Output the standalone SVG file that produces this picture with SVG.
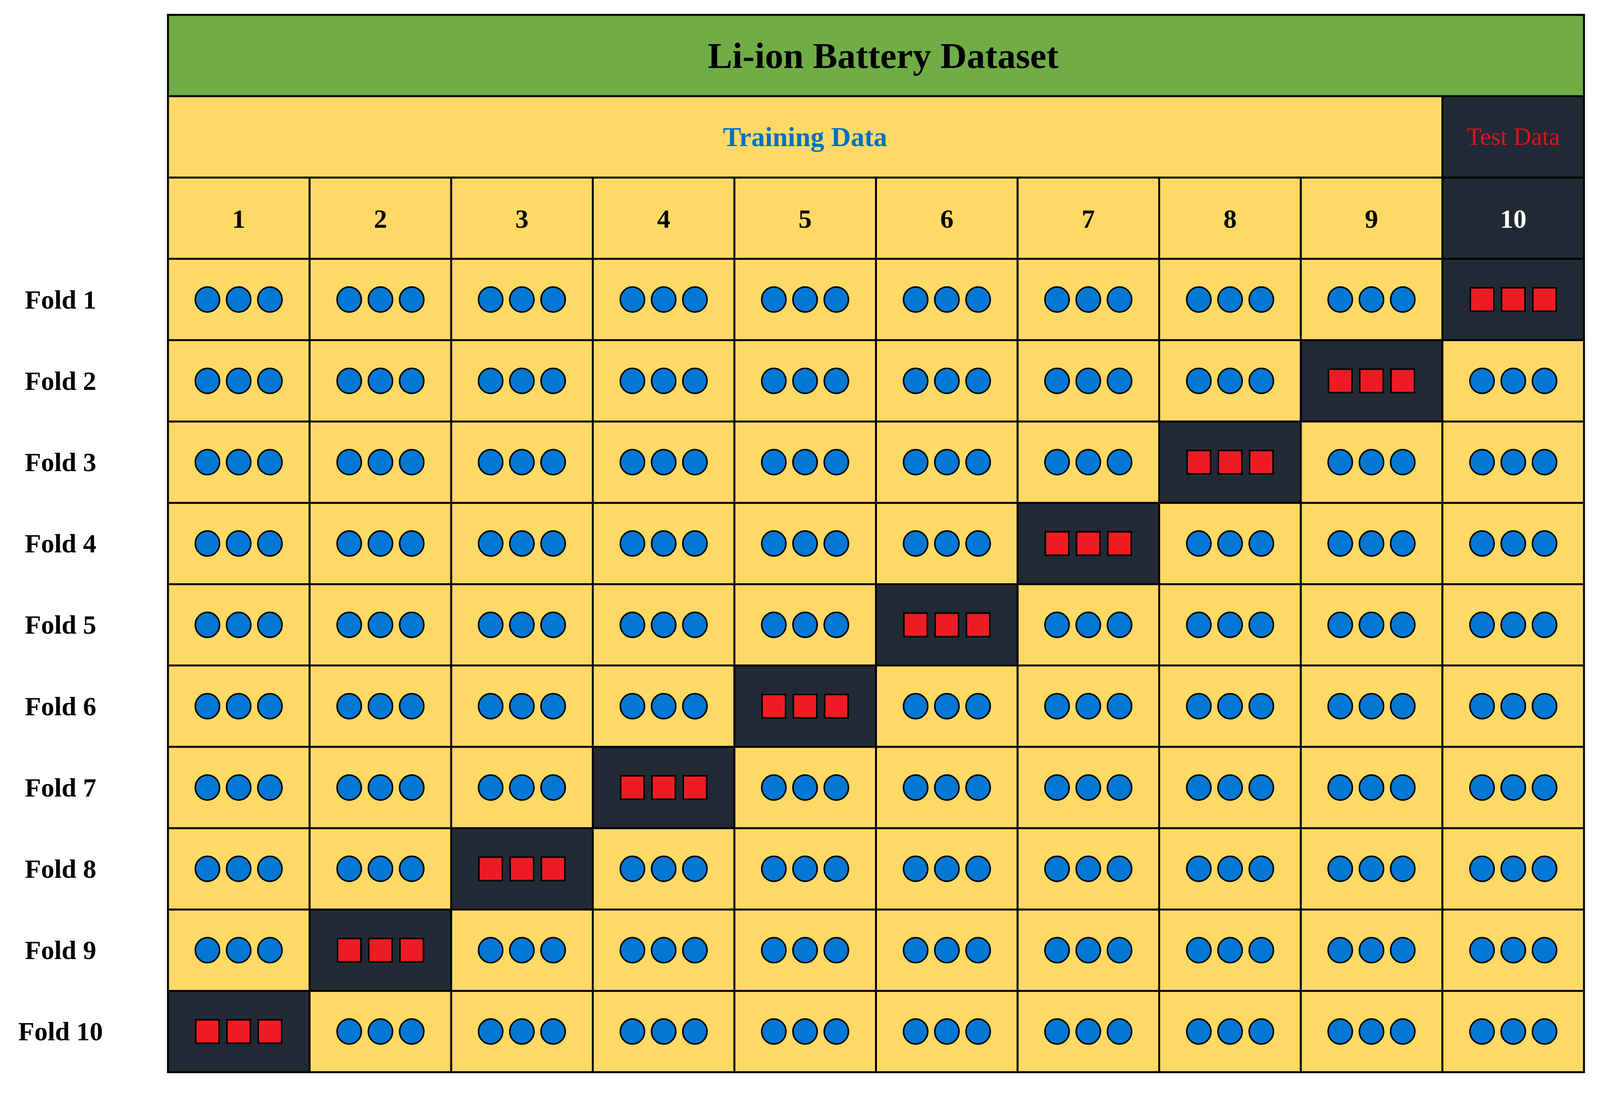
<svg xmlns="http://www.w3.org/2000/svg" xmlns:xlink="http://www.w3.org/1999/xlink" width="4129" height="2803" viewBox="0 0 4129 2803">
<style>
.t{font-family:"Liberation Serif",serif;font-weight:bold;text-anchor:middle;fill:#000}
.ln{stroke:#000;stroke-width:5;fill:none}
.dot{fill:#0277D4;stroke:#000;stroke-width:4}
.sq{fill:#ED1C24;stroke:#000;stroke-width:4}
.dk{fill:#222A35}
</style>
<defs>
<g id="c3"><ellipse class="dot" cx="-80" cy="0" rx="31" ry="32"/><ellipse class="dot" cx="0" cy="0" rx="31" ry="32"/><ellipse class="dot" cx="80" cy="0" rx="31" ry="32"/></g>
<g id="s3"><rect class="sq" x="-110" y="-30" width="60" height="60"/><rect class="sq" x="-30" y="-30" width="60" height="60"/><rect class="sq" x="50" y="-30" width="60" height="60"/></g>
</defs>
<rect width="4129" height="2803" fill="#fff"/>
<g id="title"><rect x="430" y="38" width="3625" height="208.2" fill="#70AD47"/><text class="t" x="2261" y="174" font-size="94">Li-ion Battery Dataset</text></g>
<rect x="430" y="246.2" width="3625" height="2498.4" fill="#FFD966"/>
<g id="darkcells">
<rect class="dk" x="3692.5" y="246.2" width="362.5" height="624.6"/>
<rect class="dk" x="3330" y="870.8" width="362.5" height="208.2"/>
<rect class="dk" x="2967.5" y="1079" width="362.5" height="208.2"/>
<rect class="dk" x="2605" y="1287.2" width="362.5" height="208.2"/>
<rect class="dk" x="2242.5" y="1495.4" width="362.5" height="208.2"/>
<rect class="dk" x="1880" y="1703.6" width="362.5" height="208.2"/>
<rect class="dk" x="1517.5" y="1911.8" width="362.5" height="208.2"/>
<rect class="dk" x="1155" y="2120" width="362.5" height="208.2"/>
<rect class="dk" x="792.5" y="2328.2" width="362.5" height="208.2"/>
<rect class="dk" x="430" y="2536.4" width="362.5" height="208.2"/>
</g>
<g id="grid" class="ln">
<rect x="430" y="38" width="3625" height="2706.6"/>
<path d="M430 246.2H4055M430 454.4H4055M430 662.6H4055M430 870.8H4055M430 1079H4055M430 1287.2H4055M430 1495.4H4055M430 1703.6H4055M430 1911.8H4055M430 2120H4055M430 2328.2H4055M430 2536.4H4055"/>
<path d="M3692.5 246.2V2744.6M792.5 454.4V2744.6M1155 454.4V2744.6M1517.5 454.4V2744.6M1880 454.4V2744.6M2242.5 454.4V2744.6M2605 454.4V2744.6M2967.5 454.4V2744.6M3330 454.4V2744.6"/>
</g>
<g id="headers">
<text class="t" x="2061" y="374" font-size="70" style="fill:#0070C0">Training Data</text>
<text x="3874" y="371" font-size="63" font-family="Liberation Serif,serif" text-anchor="middle" fill="#E0121E">Test Data</text>
<text class="t" font-size="68" y="583" x="611">1</text>
<text class="t" font-size="68" y="583" x="974">2</text>
<text class="t" font-size="68" y="583" x="1336">3</text>
<text class="t" font-size="68" y="583" x="1699">4</text>
<text class="t" font-size="68" y="583" x="2061">5</text>
<text class="t" font-size="68" y="583" x="2424">6</text>
<text class="t" font-size="68" y="583" x="2786">7</text>
<text class="t" font-size="68" y="583" x="3149">8</text>
<text class="t" font-size="68" y="583" x="3511">9</text>
<text class="t" font-size="68" y="583" x="3874" style="fill:#fff">10</text>
</g>
<g id="labels">
<text class="t" font-size="68" x="155" y="790">Fold 1</text>
<text class="t" font-size="68" x="155" y="998">Fold 2</text>
<text class="t" font-size="68" x="155" y="1206">Fold 3</text>
<text class="t" font-size="68" x="155" y="1414">Fold 4</text>
<text class="t" font-size="68" x="155" y="1622">Fold 5</text>
<text class="t" font-size="68" x="155" y="1831">Fold 6</text>
<text class="t" font-size="68" x="155" y="2039">Fold 7</text>
<text class="t" font-size="68" x="155" y="2247">Fold 8</text>
<text class="t" font-size="68" x="155" y="2455">Fold 9</text>
<text class="t" font-size="68" x="155" y="2663">Fold 10</text>
</g>
<g id="fold1"><use href="#c3" x="611" y="766.7"/><use href="#c3" x="974" y="766.7"/><use href="#c3" x="1336" y="766.7"/><use href="#c3" x="1699" y="766.7"/><use href="#c3" x="2061" y="766.7"/><use href="#c3" x="2424" y="766.7"/><use href="#c3" x="2786" y="766.7"/><use href="#c3" x="3149" y="766.7"/><use href="#c3" x="3511" y="766.7"/><use href="#s3" x="3874" y="766.7"/></g>
<g id="fold2"><use href="#c3" x="611" y="974.9"/><use href="#c3" x="974" y="974.9"/><use href="#c3" x="1336" y="974.9"/><use href="#c3" x="1699" y="974.9"/><use href="#c3" x="2061" y="974.9"/><use href="#c3" x="2424" y="974.9"/><use href="#c3" x="2786" y="974.9"/><use href="#c3" x="3149" y="974.9"/><use href="#s3" x="3511" y="974.9"/><use href="#c3" x="3874" y="974.9"/></g>
<g id="fold3"><use href="#c3" x="611" y="1183.1"/><use href="#c3" x="974" y="1183.1"/><use href="#c3" x="1336" y="1183.1"/><use href="#c3" x="1699" y="1183.1"/><use href="#c3" x="2061" y="1183.1"/><use href="#c3" x="2424" y="1183.1"/><use href="#c3" x="2786" y="1183.1"/><use href="#s3" x="3149" y="1183.1"/><use href="#c3" x="3511" y="1183.1"/><use href="#c3" x="3874" y="1183.1"/></g>
<g id="fold4"><use href="#c3" x="611" y="1391.3"/><use href="#c3" x="974" y="1391.3"/><use href="#c3" x="1336" y="1391.3"/><use href="#c3" x="1699" y="1391.3"/><use href="#c3" x="2061" y="1391.3"/><use href="#c3" x="2424" y="1391.3"/><use href="#s3" x="2786" y="1391.3"/><use href="#c3" x="3149" y="1391.3"/><use href="#c3" x="3511" y="1391.3"/><use href="#c3" x="3874" y="1391.3"/></g>
<g id="fold5"><use href="#c3" x="611" y="1599.5"/><use href="#c3" x="974" y="1599.5"/><use href="#c3" x="1336" y="1599.5"/><use href="#c3" x="1699" y="1599.5"/><use href="#c3" x="2061" y="1599.5"/><use href="#s3" x="2424" y="1599.5"/><use href="#c3" x="2786" y="1599.5"/><use href="#c3" x="3149" y="1599.5"/><use href="#c3" x="3511" y="1599.5"/><use href="#c3" x="3874" y="1599.5"/></g>
<g id="fold6"><use href="#c3" x="611" y="1807.7"/><use href="#c3" x="974" y="1807.7"/><use href="#c3" x="1336" y="1807.7"/><use href="#c3" x="1699" y="1807.7"/><use href="#s3" x="2061" y="1807.7"/><use href="#c3" x="2424" y="1807.7"/><use href="#c3" x="2786" y="1807.7"/><use href="#c3" x="3149" y="1807.7"/><use href="#c3" x="3511" y="1807.7"/><use href="#c3" x="3874" y="1807.7"/></g>
<g id="fold7"><use href="#c3" x="611" y="2015.9"/><use href="#c3" x="974" y="2015.9"/><use href="#c3" x="1336" y="2015.9"/><use href="#s3" x="1699" y="2015.9"/><use href="#c3" x="2061" y="2015.9"/><use href="#c3" x="2424" y="2015.9"/><use href="#c3" x="2786" y="2015.9"/><use href="#c3" x="3149" y="2015.9"/><use href="#c3" x="3511" y="2015.9"/><use href="#c3" x="3874" y="2015.9"/></g>
<g id="fold8"><use href="#c3" x="611" y="2224.1"/><use href="#c3" x="974" y="2224.1"/><use href="#s3" x="1336" y="2224.1"/><use href="#c3" x="1699" y="2224.1"/><use href="#c3" x="2061" y="2224.1"/><use href="#c3" x="2424" y="2224.1"/><use href="#c3" x="2786" y="2224.1"/><use href="#c3" x="3149" y="2224.1"/><use href="#c3" x="3511" y="2224.1"/><use href="#c3" x="3874" y="2224.1"/></g>
<g id="fold9"><use href="#c3" x="611" y="2432.3"/><use href="#s3" x="974" y="2432.3"/><use href="#c3" x="1336" y="2432.3"/><use href="#c3" x="1699" y="2432.3"/><use href="#c3" x="2061" y="2432.3"/><use href="#c3" x="2424" y="2432.3"/><use href="#c3" x="2786" y="2432.3"/><use href="#c3" x="3149" y="2432.3"/><use href="#c3" x="3511" y="2432.3"/><use href="#c3" x="3874" y="2432.3"/></g>
<g id="fold10"><use href="#s3" x="611" y="2640.5"/><use href="#c3" x="974" y="2640.5"/><use href="#c3" x="1336" y="2640.5"/><use href="#c3" x="1699" y="2640.5"/><use href="#c3" x="2061" y="2640.5"/><use href="#c3" x="2424" y="2640.5"/><use href="#c3" x="2786" y="2640.5"/><use href="#c3" x="3149" y="2640.5"/><use href="#c3" x="3511" y="2640.5"/><use href="#c3" x="3874" y="2640.5"/></g>
</svg>
